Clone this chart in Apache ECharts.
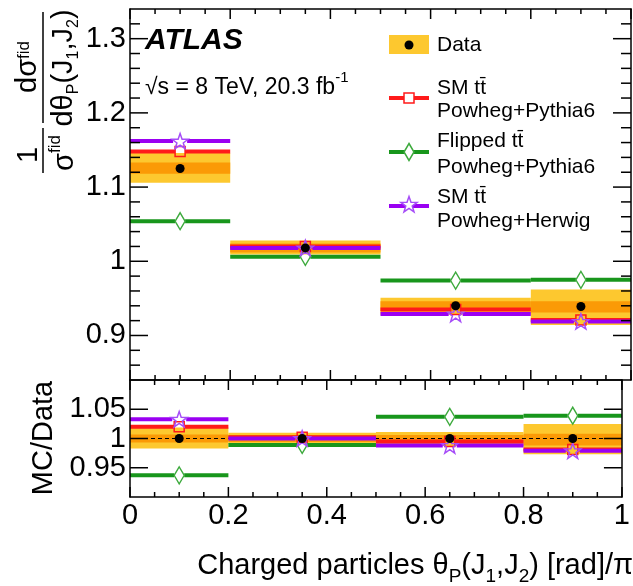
<!DOCTYPE html>
<html>
<head>
<meta charset="utf-8">
<script src="https://cdn.jsdelivr.net/npm/echarts@6/dist/echarts.min.js"></script>
<style>
html, body { margin: 0; padding: 0; background: #fff; }
#chart { width: 633px; height: 586px; }
</style>
</head>
<body>
<div id="chart"></div>
<script>
// bins in theta_P / pi
var binEdges = [0, 0.2, 0.5, 0.8, 1];
var binCenters = [0.1, 0.35, 0.65, 0.9];

// upper panel: 1/sigma dsigma/dtheta
var dataVals   = [1.125, 1.018, 0.940, 0.939];
var totLo      = [1.106, 1.009, 0.928, 0.914];
var totHi      = [1.146, 1.028, 0.951, 0.962];
var statLo     = [1.118, 1.012, 0.933, 0.931];
var statHi     = [1.133, 1.024, 0.946, 0.946];
var smPythia   = [1.148, 1.020, 0.935, 0.921];
var flipPythia = [1.054, 1.006, 0.974, 0.975];
var smHerwig   = [1.162, 1.018, 0.929, 0.919];

// lower panel: MC/Data
var rDataVals   = [1, 1, 1, 1];
var rTotLo      = [0.983, 0.991, 0.987, 0.973];
var rTotHi      = [1.019, 1.010, 1.011, 1.025];
var rStatLo     = [0.993, 0.994, 0.993, 0.988];
var rStatHi     = [1.007, 1.006, 1.006, 1.008];
var rSmPythia   = [1.020, 1.002, 0.995, 0.981];
var rFlipPythia = [0.937, 0.989, 1.037, 1.039];
var rSmHerwig   = [1.033, 1.000, 0.988, 0.979];
var refLine     = [[0, 1, 1]];

// tick marks on the frames
var xMajorTicks = [0, 0.2, 0.4, 0.6, 0.8, 1];
var xMinorTicks = [0.05, 0.1, 0.15, 0.25, 0.3, 0.35, 0.45, 0.5, 0.55, 0.65, 0.7, 0.75, 0.85, 0.9, 0.95];
var mainYMajorTicks = [0.9, 1, 1.1, 1.2, 1.3];
var mainYMinorTicks = [0.86, 0.88, 0.92, 0.94, 0.96, 0.98, 1.02, 1.04, 1.06, 1.08, 1.12, 1.14, 1.16, 1.18, 1.22, 1.24, 1.26, 1.28, 1.32];
var ratioYMajorTicks = [0.95, 1, 1.05];

var legendNames = [['Data'], ['SM tt\u0304', 'Powheg+Pythia6'], ['Flipped tt\u0304', 'Powheg+Pythia6'], ['SM tt\u0304', 'Powheg+Herwig']];

var FONT = '"Liberation Sans", Arial, Helvetica, sans-serif';
var YELLOW = '#FDC82F', ORANGE = '#FB9A06';
var RED = '#FF1A1A', GREEN = '#18961C', GREEN_M = '#3DAA3D', PURPLE = '#9A00F2', PURPLE_M = '#A64DF8';

var mainRange = [0.84, 1.34];
var ratioRange = [0.9, 1.1];
var xRange = [0, 1];

function starPoints(cx, cy, r) {
  var pts = [];
  for (var i = 0; i < 10; i++) {
    var a = -Math.PI / 2 + i * Math.PI / 5;
    var rr = i % 2 ? r * 0.4 : r;
    pts.push([cx + Math.cos(a) * rr, cy + Math.sin(a) * rr]);
  }
  return pts;
}
var starSymbol = 'path://M' + starPoints(0, 0, 10).map(function (p) { return p[0].toFixed(2) + ' ' + p[1].toFixed(2); }).join(' L') + ' Z';

function bandSeries(g, lo, hi, color) {
  return {
    type: 'custom', xAxisIndex: g * 2, yAxisIndex: g * 2, silent: true, z: 1,
    data: lo.map(function (l, i) { return [binEdges[i], binEdges[i + 1], l, hi[i]]; }),
    renderItem: function (params, api) {
      var a = api.coord([api.value(0), api.value(3)]);
      var b = api.coord([api.value(1), api.value(2)]);
      return { type: 'rect', shape: { x: a[0], y: a[1], width: b[0] - a[0], height: b[1] - a[1] }, style: { fill: color } };
    }
  };
}

// horizontal bin lines; rows are [x0, x1, value]
function stepSeries(g, rows, color, gap, width, dash) {
  return {
    type: 'custom', xAxisIndex: g * 2, yAxisIndex: g * 2, silent: true, z: 1,
    data: rows,
    renderItem: function (params, api) {
      var y = api.value(2);
      var a = api.coord([api.value(0), y]);
      var b = api.coord([api.value(1), y]);
      var st = { stroke: color, lineWidth: width, lineDash: dash || null };
      if (!gap) return { type: 'line', shape: { x1: a[0], y1: a[1], x2: b[0], y2: b[1] }, style: st };
      var c = api.coord([binCenters[params.dataIndex], y]);
      return { type: 'group', children: [
        { type: 'line', shape: { x1: a[0], y1: a[1], x2: c[0] - gap, y2: c[1] }, style: st },
        { type: 'line', shape: { x1: c[0] + gap, y1: c[1], x2: b[0], y2: b[1] }, style: st }
      ] };
    }
  };
}
function binRows(vals) {
  return vals.map(function (v, i) { return [binEdges[i], binEdges[i + 1], v]; });
}

function markerSeries(g, vals, symbol, size, fill, border) {
  return {
    type: 'scatter', xAxisIndex: g * 2, yAxisIndex: g * 2, silent: true, z: 1,
    symbol: symbol, symbolSize: size, symbolKeepAspect: true,
    data: vals.map(function (v, i) { return [binCenters[i], v]; }),
    itemStyle: { color: fill, borderColor: border, borderWidth: border ? 1.5 : 0, opacity: 1 }
  };
}

function xAx(g, pos, labels) {
  return {
    type: 'value', gridIndex: g, position: pos, min: xRange[0], max: xRange[1], interval: 0.2, z: 5,
    axisLine: { show: true, onZero: false, lineStyle: { color: '#000', width: 1.5 } },
    axisTick: { show: false },
    axisLabel: { show: labels, margin: 4, fontSize: 29, fontFamily: FONT, color: '#000' },
    splitLine: { show: false }
  };
}

function yAx(g, pos, labels, range) {
  var ax = {
    type: 'value', gridIndex: g, position: pos, min: range[0], max: range[1], z: 5,
    axisLine: { show: true, onZero: false, lineStyle: { color: '#000', width: 1.5 } },
    axisTick: { show: false },
    axisLabel: { show: labels, margin: 4, fontSize: 29, fontFamily: FONT, color: '#000', showMinLabel: false, showMaxLabel: false },
    splitLine: { show: false }
  };
  if (g === 0) ax.splitNumber = 5;
  else ax.interval = 0.05;
  return ax;
}

var series = [];
[[totLo, totHi, statLo, statHi, smPythia, flipPythia, smHerwig, dataVals],
 [rTotLo, rTotHi, rStatLo, rStatHi, rSmPythia, rFlipPythia, rSmHerwig, rDataVals]].forEach(function (s, g) {
  series.push(bandSeries(g, s[0], s[1], YELLOW));
  series.push(bandSeries(g, s[2], s[3], ORANGE));
  if (g === 1) series.push(stepSeries(1, refLine, '#000', 0, 1, [4, 3]));
  series.push(stepSeries(g, binRows(s[5]), GREEN, 5, 4));
  series.push(stepSeries(g, binRows(s[4]), RED, 5, 4));
  series.push(stepSeries(g, binRows(s[6]), PURPLE, 7, 4));
  series.push(markerSeries(g, s[5], 'diamond', [10, 17], 'rgba(0,0,0,0)', GREEN_M));
  series.push(markerSeries(g, s[4], 'rect', 10, 'rgba(0,0,0,0)', RED));
  series.push(markerSeries(g, s[6], starSymbol, 16, 'rgba(0,0,0,0)', PURPLE_M));
  series.push(markerSeries(g, s[7], 'circle', 9, '#000', null));
});

function txt(x, y, text, size, extra) {
  var st = { text: text, x: 0, y: 0, fill: '#000', fontSize: size, fontFamily: FONT,
             align: 'left', verticalAlign: 'middle', textAlign: 'left', textVerticalAlign: 'middle' };
  for (var k in extra) st[k] = extra[k];
  return { type: 'text', x: x, y: y, silent: true, style: st };
}

function richStyles(n, nPad, sup, supPad, sub, subPad) {
  return {
    n: { fontSize: n, lineHeight: n + 1, fontFamily: FONT, verticalAlign: 'top', padding: [nPad, 0, 0, 0] },
    sup: { fontSize: sup, lineHeight: sup + 1, fontFamily: FONT, verticalAlign: 'top', padding: [supPad, 0, 0, 0] },
    sub: { fontSize: sub, lineHeight: sub + 1, fontFamily: FONT, verticalAlign: 'top', padding: [subPad, 0, 0, 0] }
  };
}

var graphics = [];
// ATLAS label
graphics.push(txt(145, 41, 'ATLAS', 30, { fontWeight: 'bold', fontStyle: 'italic' }));
graphics.push(txt(145, 82, '{n|\u221As = 8 TeV, 20.3 fb}{sup|-1}', 23, { rich: richStyles(23, 6, 15, 0, 15, 0) }));

// legend
var lx0 = 389, lx1 = 429, lxm = 409, tx = 437;
graphics.push({ type: 'rect', silent: true, shape: { x: lx0, y: 35, width: lx1 - lx0, height: 19 }, style: { fill: YELLOW } });
graphics.push({ type: 'circle', silent: true, shape: { cx: lxm, cy: 45, r: 4.5 }, style: { fill: '#000' } });
graphics.push(txt(tx, 45, legendNames[0][0], 21));
var legRows = [
  { y: 98, color: RED, t: [88, 111] },
  { y: 152, color: GREEN, t: [141, 167] },
  { y: 206, color: PURPLE, t: [197, 221] }
];
legRows.forEach(function (r, i) {
  graphics.push({ type: 'line', silent: true, shape: { x1: lx0, y1: r.y, x2: lx1, y2: r.y }, style: { stroke: r.color, lineWidth: 4 } });
  graphics.push(txt(tx, r.t[0], legendNames[i + 1][0], 21));
  graphics.push(txt(tx, r.t[1], legendNames[i + 1][1], 21));
});
graphics.push({ type: 'rect', silent: true, shape: { x: lxm - 5, y: 93, width: 10, height: 10 }, style: { fill: '#fff', stroke: RED, lineWidth: 1.5 } });
graphics.push({ type: 'polygon', silent: true, shape: { points: [[lxm, 143.5], [lxm + 5, 152], [lxm, 160.5], [lxm - 5, 152]] }, style: { fill: '#fff', stroke: GREEN_M, lineWidth: 1.5 } });
graphics.push({ type: 'polygon', silent: true, shape: { points: starPoints(lxm, 205, 8.5) }, style: { fill: '#fff', stroke: PURPLE_M, lineWidth: 1.5 } });

// y title of the upper panel (rotated fraction)
var rot = Math.PI / 2;
function rtxt(x, y, text, rich) {
  return { type: 'text', x: x, y: y, rotation: rot, silent: true,
    style: { text: text, x: 0, y: 0, fill: '#000', rich: rich, fontFamily: FONT,
             align: 'center', verticalAlign: 'middle', textAlign: 'center', textVerticalAlign: 'middle' } };
}
graphics.push({ type: 'line', silent: true, shape: { x1: 43, y1: 12, x2: 43, y2: 123 }, style: { stroke: '#000', lineWidth: 1.5 } });
graphics.push({ type: 'line', silent: true, shape: { x1: 43, y1: 128, x2: 43, y2: 173 }, style: { stroke: '#000', lineWidth: 1.5 } });
graphics.push(rtxt(28, 67, '{n|d\u03C3}{sup|fid}', richStyles(29, 0, 17, 3, 16, 0)));
graphics.push(rtxt(64, 68, '{n|d\u03B8}{sub|P}{n|(J}{sub|1}{n|,J}{sub|2}{n|)}', richStyles(29, 0, 17, 0, 16, 17)));
graphics.push(rtxt(29, 155, '{n|1}', richStyles(29, 0, 17, 0, 16, 0)));
graphics.push(rtxt(59, 153, '{n|\u03C3}{sup|fid}', richStyles(29, 6, 17, 3, 16, 0)));

// y title of the ratio panel
graphics.push({ type: 'text', x: 44, y: 438, rotation: rot, silent: true,
  style: { text: 'MC/Data', x: 0, y: 0, fill: '#000', fontSize: 29, fontFamily: FONT,
           align: 'center', verticalAlign: 'middle', textAlign: 'center', textVerticalAlign: 'middle' } });

// x title
graphics.push({ type: 'text', x: 633, y: 566, silent: true,
  style: { text: '{n|Charged particles \u03B8}{sub|P}{n|(J}{sub|1}{n|,J}{sub|2}{n|) [rad]/\u03C0}', x: 0, y: 0, fill: '#000',
           rich: richStyles(29, 0, 18, 0, 19, 16), fontFamily: FONT,
           align: 'right', verticalAlign: 'middle', textAlign: 'right', textVerticalAlign: 'middle' } });

var chart = echarts.init(document.getElementById('chart'), null, { renderer: 'canvas' });
chart.setOption({
  animation: false,
  backgroundColor: '#fff',
  grid: [
    { left: 130, top: 9, width: 501, height: 371 },
    { left: 130, top: 380, width: 501, height: 117 }
  ],
  xAxis: [xAx(0, 'bottom', false), xAx(0, 'top', false), xAx(1, 'bottom', true), xAx(1, 'top', false)],
  yAxis: [yAx(0, 'left', true, mainRange), yAx(0, 'right', false, mainRange), yAx(1, 'left', true, ratioRange), yAx(1, 'right', false, ratioRange)],
  series: series,
  graphic: { elements: graphics }
});

// inward ticks on all four frame sides, placed through the grids' own scales
function tickLine(p, dx, dy) {
  return { type: 'line', silent: true, z: 50,
    shape: { x1: p[0], y1: p[1], x2: p[0] + dx, y2: p[1] + dy },
    style: { stroke: '#000', lineWidth: 1.5 } };
}
function panelTicks(g, yRange, yMajor, yMinor) {
  var out = [];
  var px = function (x, y) { return chart.convertToPixel({ gridIndex: g }, [x, y]); };
  xMajorTicks.forEach(function (v) {
    out.push(tickLine(px(v, yRange[0]), 0, -10));
    out.push(tickLine(px(v, yRange[1]), 0, 10));
  });
  xMinorTicks.forEach(function (v) {
    out.push(tickLine(px(v, yRange[0]), 0, -5));
    out.push(tickLine(px(v, yRange[1]), 0, 5));
  });
  yMajor.forEach(function (v) {
    out.push(tickLine(px(xRange[0], v), 18, 0));
    out.push(tickLine(px(xRange[1], v), -18, 0));
  });
  yMinor.forEach(function (v) {
    out.push(tickLine(px(xRange[0], v), 10, 0));
    out.push(tickLine(px(xRange[1], v), -10, 0));
  });
  return out;
}
var tickEls = panelTicks(0, mainRange, mainYMajorTicks, mainYMinorTicks)
  .concat(panelTicks(1, ratioRange, ratioYMajorTicks, []));
chart.setOption({ graphic: { elements: graphics.concat(tickEls) } });
</script>
</body>
</html>
